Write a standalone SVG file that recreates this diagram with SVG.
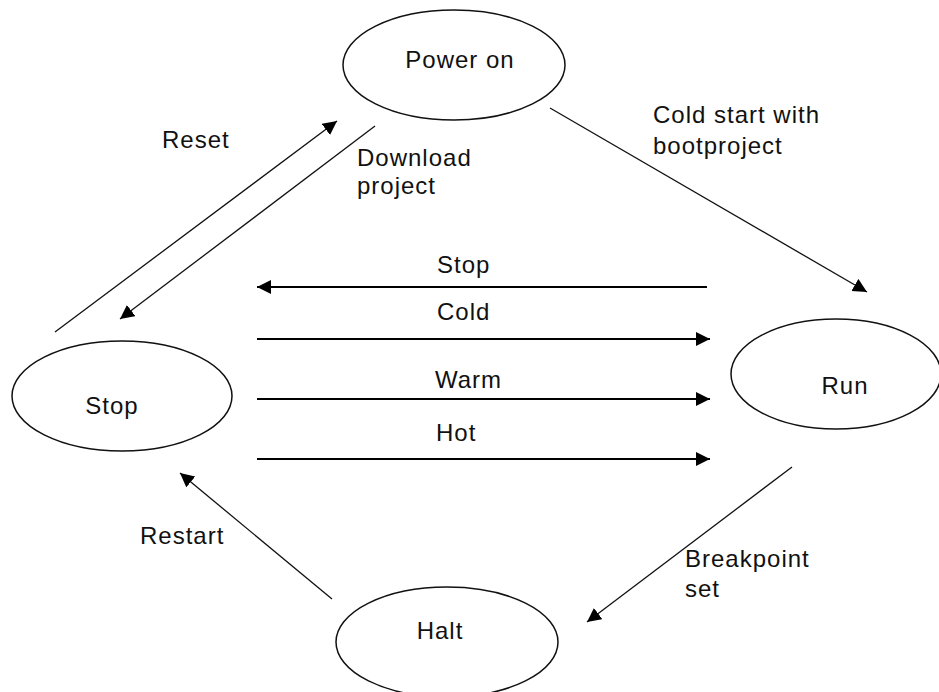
<svg xmlns="http://www.w3.org/2000/svg" width="939" height="692" viewBox="0 0 939 692">
<style>
  .node ellipse { fill: #ffffff; stroke: #111111; stroke-width: 1.5; }
  text { font-family: "Liberation Sans", Arial, sans-serif; font-size: 24px; letter-spacing: 1px; fill: #111111; }
  .c { text-anchor: middle; }
  .h { stroke: #000000; stroke-width: 2; fill: none; }
  .d { stroke: #111111; stroke-width: 1.3; fill: none; }
</style>
<defs>
  <marker id="ah" markerUnits="userSpaceOnUse" markerWidth="15" markerHeight="15" refX="14" refY="7" orient="auto">
    <path d="M0,0 L14,7 L0,14 Z" fill="#000000"/>
  </marker>
</defs>
<rect width="939" height="692" fill="#ffffff"/>

<g id="connectors">
  <line class="d" x1="55" y1="332" x2="337" y2="121" marker-end="url(#ah)"/>
  <line class="d" x1="375" y1="126" x2="120" y2="319" marker-end="url(#ah)"/>
  <line class="d" x1="550" y1="108" x2="867" y2="292" marker-end="url(#ah)"/>
  <line class="h" x1="707" y1="287" x2="257" y2="287" marker-end="url(#ah)"/>
  <line class="h" x1="257" y1="339" x2="710" y2="339" marker-end="url(#ah)"/>
  <line class="h" x1="257" y1="399" x2="710" y2="399" marker-end="url(#ah)"/>
  <line class="h" x1="257" y1="459" x2="710" y2="459" marker-end="url(#ah)"/>
  <line class="d" x1="792" y1="467" x2="587" y2="622" marker-end="url(#ah)"/>
  <line class="d" x1="332" y1="599" x2="180" y2="473" marker-end="url(#ah)"/>

  <text x="162" y="148">Reset</text>
  <text x="357" y="166">Download</text>
  <text x="357" y="194">project</text>
  <text x="653" y="123">Cold start with</text>
  <text x="653" y="154">bootproject</text>
  <text x="437" y="273">Stop</text>
  <text x="437" y="320">Cold</text>
  <text x="435" y="388">Warm</text>
  <text x="436" y="441">Hot</text>
  <text x="685" y="567">Breakpoint</text>
  <text x="685" y="597">set</text>
  <text x="140" y="544">Restart</text>
</g>

<g id="power-on" class="node">
  <ellipse cx="454" cy="65" rx="111" ry="55"/>
  <text class="c" x="460" y="68">Power on</text>
</g>
<g id="stop" class="node">
  <ellipse cx="122" cy="396" rx="110" ry="55"/>
  <text class="c" x="112" y="414">Stop</text>
</g>
<g id="run" class="node">
  <ellipse cx="836" cy="374" rx="105" ry="55"/>
  <text class="c" x="845" y="394">Run</text>
</g>
<g id="halt" class="node">
  <ellipse cx="447" cy="642" rx="111" ry="55"/>
  <text class="c" x="440" y="639">Halt</text>
</g>
</svg>
